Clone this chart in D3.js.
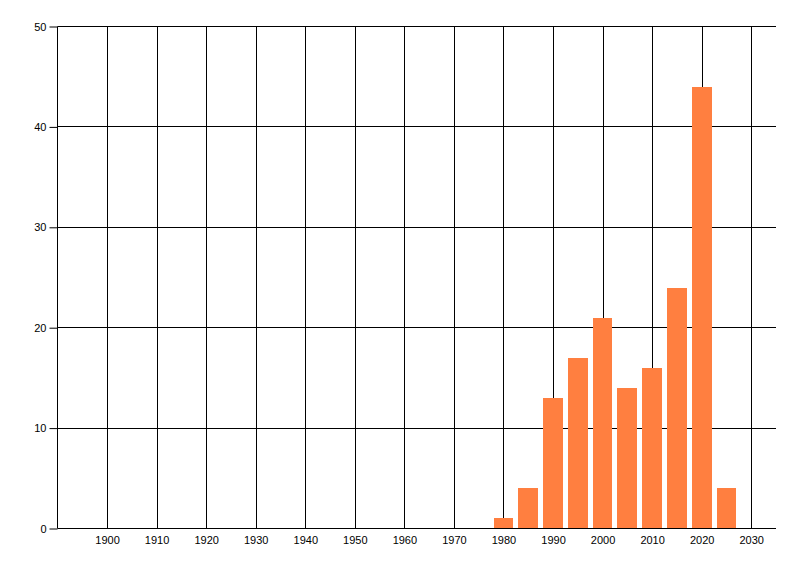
<!DOCTYPE html>
<html lang="en">
<head>
    <meta charset="utf-8">
    <title>bars</title>
    <script src="https://cdn.jsdelivr.net/npm/d3@7"></script>
    <style>
        body { margin: 0; background: #fff; }
        .tick text { font-family: "Liberation Sans", Arial, sans-serif; font-size: 11px; fill: #000; }
    </style>
</head>
<body>
<script type="text/javascript">
    var years = [1980, 1985, 1990, 1995, 2000, 2005, 2010, 2015, 2020, 2025];
    var counts = [1, 4, 13, 17, 21, 14, 16, 24, 44, 4];
    var xTicks = [1900, 1910, 1920, 1930, 1940, 1950, 1960, 1970, 1980, 1990, 2000, 2010, 2020, 2030];
    var yTicks = [0, 10, 20, 30, 40, 50];

    var svgWidth = 800, svgHeight = 576;
    var plotLeft = 57.5, plotRight = 776, plotTop = 26.5, plotBottom = 528.5;

    var svg = d3.select('body').append('svg')
        .attr('width', svgWidth)
        .attr('height', svgHeight);

    var x = d3.scaleLinear().domain([1890, 2035]).range([plotLeft, plotRight]);
    var y = d3.scaleLinear().domain([0, 50]).range([plotBottom, plotTop]);

    // grid
    svg.append('g').selectAll('line')
        .data(xTicks)
        .enter().append('line')
        .attr('x1', d => Math.round(x(d)) + 0.5)
        .attr('x2', d => Math.round(x(d)) + 0.5)
        .attr('y1', plotTop)
        .attr('y2', plotBottom)
        .attr('stroke', '#000');

    svg.append('g').selectAll('line')
        .data(yTicks)
        .enter().append('line')
        .attr('x1', plotLeft)
        .attr('x2', plotRight)
        .attr('y1', d => Math.round(y(d) - 0.5) + 0.5)
        .attr('y2', d => Math.round(y(d) - 0.5) + 0.5)
        .attr('stroke', '#000');

    svg.append('line')
        .attr('x1', plotLeft).attr('x2', plotLeft)
        .attr('y1', plotTop).attr('y2', plotBottom)
        .attr('stroke', '#000');

    // bars
    svg.append('g').selectAll('rect')
        .data(years)
        .enter().append('rect')
        .attr('x', d => Math.round(x(d - 2)))
        .attr('width', d => Math.round(x(d + 2)) - Math.round(x(d - 2)))
        .attr('y', (d, i) => Math.round(y(counts[i])))
        .attr('height', (d, i) => plotBottom - 0.5 - Math.round(y(counts[i])))
        .attr('fill', '#ff7f40');

    // axes
    var yAxis = d3.axisLeft(y).tickValues(yTicks).tickSize(8).tickPadding(3);
    svg.append('g')
        .attr('transform', 'translate(' + plotLeft + ',0)')
        .call(yAxis)
        .call(g => g.select('.domain').remove());

    var xAxis = d3.axisBottom(x).tickValues(xTicks).tickSize(0).tickPadding(8).tickFormat(d3.format('d'));
    svg.append('g')
        .attr('transform', 'translate(0,' + plotBottom + ')')
        .call(xAxis)
        .call(g => g.select('.domain').remove());
</script>
</body>
</html>
